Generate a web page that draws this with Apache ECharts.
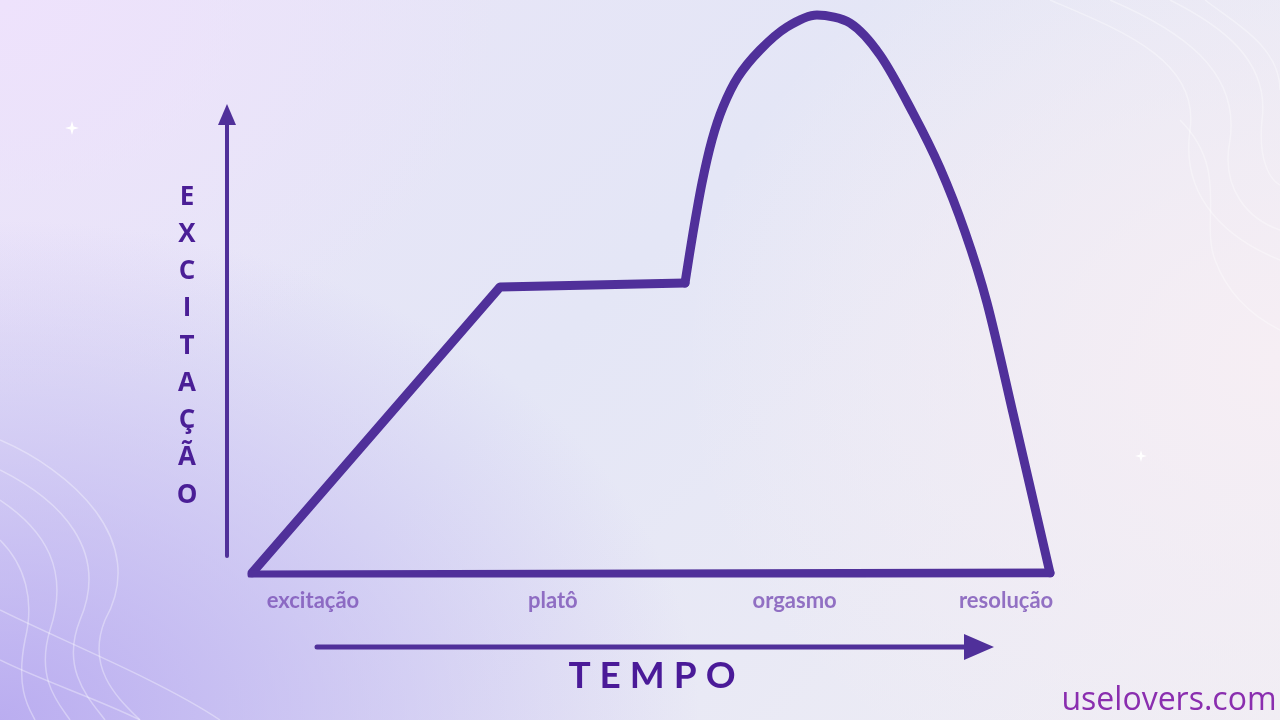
<!DOCTYPE html>
<html>
<head>
<meta charset="utf-8">
<script src="https://cdn.jsdelivr.net/npm/echarts@6/dist/echarts.min.js"></script>
<style>
html,body{margin:0;padding:0;width:1280px;height:720px;overflow:hidden;}
body{background:
 radial-gradient(ellipse 700px 500px at 0% 100%, rgba(184,170,240,0.95), rgba(184,170,240,0) 100%),
 radial-gradient(ellipse 500px 400px at 0% 0%, rgba(238,226,252,1), rgba(238,226,252,0) 100%),
 radial-gradient(ellipse 600px 500px at 100% 50%, rgba(246,238,244,1), rgba(246,238,244,0) 100%),
 linear-gradient(135deg,#e9e4f8 0%,#e4e6f6 45%,#efedf4 100%);}
#c{width:1280px;height:720px;}
</style>
</head>
<body>
<div id="c"></div>
<script>
// Curve data: time (0-100) vs excitation (0-100)
const riseX = [0, 31.08, 54.26];
const riseY = [0, 51.16, 51.88];
const peakX = [54.26, 55.26, 56.39, 57.64, 59.02, 60.90, 63.66, 67.04, 70.80, 74.94, 78.70, 82.83, 86.22, 89.35, 92.11, 95.36, 100];
const peakY = [51.88, 60.82, 69.77, 77.46, 83.36, 88.73, 93.56, 97.67, 99.82, 98.39, 92.67, 82.29, 72.45, 61.00, 48.30, 28.62, 0];
const baseX = [100, 0];
const baseY = [0, -0.36];
const phaseNames = ['excitação', 'platô', 'orgasmo', 'resolução'];
const phasePos = [7.64, 37.7, 68.0, 94.5];
const yTitle = 'EXCITAÇÃO';
const xTitle = 'TEMPO';
const brand = 'uselovers.com';

const lineColor = '#50309a';
const zip = (a, b) => a.map((v, i) => [v, b[i]]);

const chart = echarts.init(document.getElementById('c'));
const lineStyle = { width: 9, color: lineColor, cap: 'round', join: 'round' };

// decorative background waves: cubic segments [x1,y1,cx1,cy1,cx2,cy2,x2,y2]
const waveSegs = [
  [0,440, 70,470, 150,540, 105,620], [105,620, 85,670, 120,700, 140,720],
  [0,470, 60,500, 110,550, 80,620], [80,620, 60,670, 90,700, 105,720],
  [0,500, 45,530, 70,570, 50,630], [50,630, 35,680, 60,705, 70,720],
  [0,540, 25,565, 35,600, 25,640], [25,640, 15,690, 30,710, 35,720],
  [0,610, 60,640, 160,680, 220,720],
  [0,660, 40,680, 100,700, 140,720],
  [1050,0, 1120,30, 1200,60, 1190,130], [1190,130, 1180,200, 1230,240, 1280,260],
  [1110,0, 1180,30, 1240,70, 1230,140], [1230,140, 1220,190, 1250,220, 1280,230],
  [1170,0, 1220,25, 1270,60, 1262,120], [1262,120, 1258,160, 1270,180, 1280,185],
  [1205,0, 1230,20, 1280,45, 1280,90],
  [1180,120, 1230,170, 1200,220, 1215,260], [1215,260, 1230,300, 1260,320, 1280,330]
];
const waves = waveSegs.map(s => ({
  type: 'bezierCurve', silent: true, z: 0,
  shape: { x1: s[0], y1: s[1], cpx1: s[2], cpy1: s[3], cpx2: s[4], cpy2: s[5], x2: s[6], y2: s[7] },
  style: { fill: null, stroke: 'rgba(255,255,255,0.35)', lineWidth: 1.5 }
}));

function sparkle(cx, cy, r) {
  const k = r * 0.22;
  return {
    type: 'polygon', silent: true,
    shape: { points: [[cx, cy - r], [cx + k, cy - k], [cx + r, cy], [cx + k, cy + k], [cx, cy + r], [cx - k, cy + k], [cx - r, cy], [cx - k, cy - k]] },
    style: { fill: '#ffffff' }
  };
}

chart.setOption({
  backgroundColor: 'transparent',
  animation: false,
  grid: { left: 252, right: 230, top: 14, bottom: 147 },
  xAxis: { type: 'value', min: 0, max: 100, show: false },
  yAxis: { type: 'value', min: 0, max: 100, show: false },
  series: [
    { type: 'line', data: zip(riseX, riseY), symbol: 'none', lineStyle: lineStyle, z: 3 },
    { type: 'line', data: zip(peakX, peakY), symbol: 'none', smooth: 0.3, lineStyle: lineStyle, z: 3 },
    { type: 'line', data: zip(baseX, baseY), symbol: 'none', lineStyle: lineStyle, z: 3 },
    {
      type: 'scatter', symbol: 'circle', symbolSize: 1, silent: true, clip: false,
      itemStyle: { color: 'rgba(0,0,0,0)' },
      data: phasePos.map((x, i) => ({ value: [x, -5], name: phaseNames[i] })),
      label: {
        show: true, position: 'inside', formatter: p => p.name,
        color: '#7a51b6', fontSize: 22, fontWeight: 'bold', fontFamily: 'Lato'
      }
    }
  ],
  graphic: waves.concat([
    sparkle(72, 128, 7),
    sparkle(1141, 456, 6),
    { type: 'line', shape: { x1: 227, y1: 556, x2: 227, y2: 118 }, style: { stroke: lineColor, lineWidth: 4, lineCap: 'round' } },
    { type: 'polygon', shape: { points: [[227, 104], [218, 125], [236, 125]] }, style: { fill: lineColor } },
    { type: 'line', shape: { x1: 317, y1: 647, x2: 975, y2: 647 }, style: { stroke: lineColor, lineWidth: 5, lineCap: 'round' } },
    { type: 'polygon', shape: { points: [[994, 647], [964, 634], [964, 660]] }, style: { fill: lineColor } },
    {
      type: 'text', x: 187, y: 178.5,
      style: {
        text: yTitle.split('').join('\n'), align: 'center', verticalAlign: 'top',
        fill: '#4a1e96', font: 'bold 26px "Open Sans"', lineHeight: 37.25
      }
    },
    {
      type: 'text', x: 652, y: 676,
      style: {
        text: xTitle.split('').join(' '), align: 'center', verticalAlign: 'middle',
        fill: '#4a1a98', font: 'bold 37px Lato'
      }
    },
    {
      type: 'text', x: 1169, y: 701,
      style: {
        text: brand, align: 'center', verticalAlign: 'middle',
        fill: '#8a2eaf', font: '32px "Open Sans"'
      }
    }
  ])
});
</script>
</body>
</html>
